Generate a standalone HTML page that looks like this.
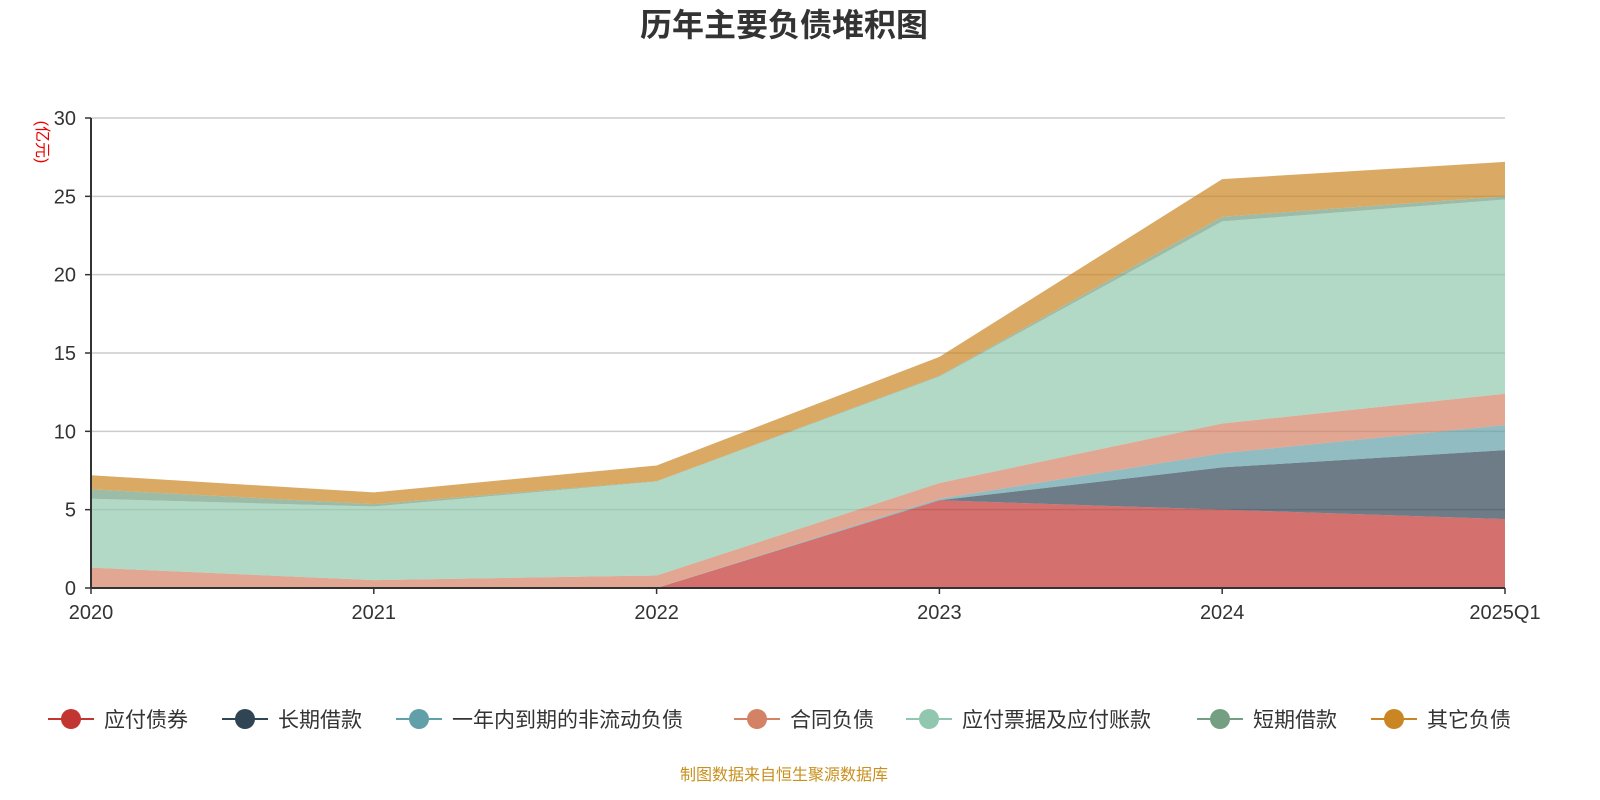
<!DOCTYPE html>
<html><head><meta charset="utf-8"><style>
body{margin:0;background:#fff;font-family:"Liberation Sans","Noto Sans CJK SC",sans-serif;}
</style></head><body>
<svg id="chart" width="1600" height="800" xmlns="http://www.w3.org/2000/svg" style="display:block">
<text x="784" y="36" text-anchor="middle" font-size="32" font-weight="bold" fill="#333" font-family="Liberation Sans, Noto Sans CJK SC, sans-serif">历年主要负债堆积图</text>
<text transform="translate(37,142) rotate(90)" text-anchor="middle" font-size="16" fill="#e00" font-family="Liberation Sans, Noto Sans CJK SC, sans-serif">(亿元)</text>
<g id="grid"></g><g id="areas"></g><g id="axes"></g><g id="legend"></g>
<text x="784" y="780" text-anchor="middle" font-size="16" fill="#c8901e" font-family="Liberation Sans, Noto Sans CJK SC, sans-serif">制图数据来自恒生聚源数据库</text>
</svg>
<script>
const categories=["2020","2021","2022","2023","2024","2025Q1"];
const seriesNames=["应付债券","长期借款","一年内到期的非流动负债","合同负债","应付票据及应付账款","短期借款","其它负债"];
const bonds=[0,0,0,5.6,5.0,4.4];
const longLoans=[0,0,0,0,2.7,4.4];
const currentNonCurrent=[0,0,0,0.1,0.9,1.6];
const contractLiab=[1.3,0.5,0.8,1.0,1.9,2.0];
const payables=[4.4,4.7,6.0,6.8,12.9,12.4];
const shortLoans=[0.6,0.15,0.02,0.05,0.3,0.2];
const otherLiab=[0.9,0.75,1.0,1.2,2.4,2.2];
const yTicks=[0,5,10,15,20,25,30];
const colors=["#c23531","#2f4554","#61a0a8","#d48265","#91c7ae","#749f83","#ca8622"];
const NS="http://www.w3.org/2000/svg";
const x0=91,x1=1505,y0=588,y1=118,yMax=30;
const X=i=>x0+(x1-x0)*i/(categories.length-1);
const Y=v=>y0-(y0-y1)*v/yMax;
function mk(t,a,p){const e=document.createElementNS(NS,t);for(const k in a)e.setAttribute(k,a[k]);p.appendChild(e);return e;}
const grid=document.getElementById('grid'),axes=document.getElementById('axes'),areas=document.getElementById('areas'),legend=document.getElementById('legend');
const FF="Liberation Sans, Noto Sans CJK SC, sans-serif";
yTicks.forEach(t=>{
 if(t>0){const g=mk('line',{x1:x0,x2:x1,y1:Y(t),y2:Y(t),stroke:'#ccc','stroke-width':1.5},grid);
 
 }
 const tk=mk('line',{x1:x0-6,x2:x0,y1:Y(t),y2:Y(t),stroke:'#333','stroke-width':1.5},axes);
 
 
 const l=mk('text',{x:x0-15,y:Y(t)+7,'text-anchor':'end','font-size':20,fill:'#333','font-family':FF},axes);l.textContent=t;
 
 
});
const all=[bonds,longLoans,currentNonCurrent,contractLiab,payables,shortLoans,otherLiab];
let base=categories.map(()=>0);
all.forEach((s,si)=>{
 const top=base.map((b,i)=>b+s[i]);
 let d='M'+top.map((v,i)=>X(i)+','+Y(v)).join('L');
 for(let i=categories.length-1;i>=0;i--)d+='L'+X(i)+','+Y(base[i]);
 d+='Z';
 const p=mk('path',{d:d,fill:colors[si],'fill-opacity':0.7,stroke:'none'},areas);
 
 
 base=top;
});
const ax=mk('line',{x1:x0,x2:x0,y1:y1,y2:y0,stroke:'#333','stroke-width':2},axes);


const xa=mk('line',{x1:x0,x2:x1,y1:y0,y2:y0,stroke:'#333','stroke-width':2},axes);


categories.forEach((c,i)=>{
 const tk=mk('line',{x1:X(i),x2:X(i),y1:y0,y2:y0+6,stroke:'#333','stroke-width':1.5},axes);
 
 
 const l=mk('text',{x:X(i),y:y0+31,'text-anchor':'middle','font-size':20,fill:'#333','font-family':FF},axes);l.textContent=c;
 
 
});
const legX=[48,222,396,734,906,1197,1371];
seriesNames.forEach((n,i)=>{
 const g=mk('g',{},legend);
 
 
 const lx=legX[i],ly=719;
 mk('line',{x1:lx,x2:lx+46,y1:ly,y2:ly,stroke:colors[i],'stroke-width':2},g);
 mk('circle',{cx:lx+23,cy:ly,r:10,fill:colors[i]},g);
 const t=mk('text',{x:lx+56,y:ly+8,'font-size':21,fill:'#333','font-family':FF},g);t.textContent=n;
});
</script>
</body></html>
